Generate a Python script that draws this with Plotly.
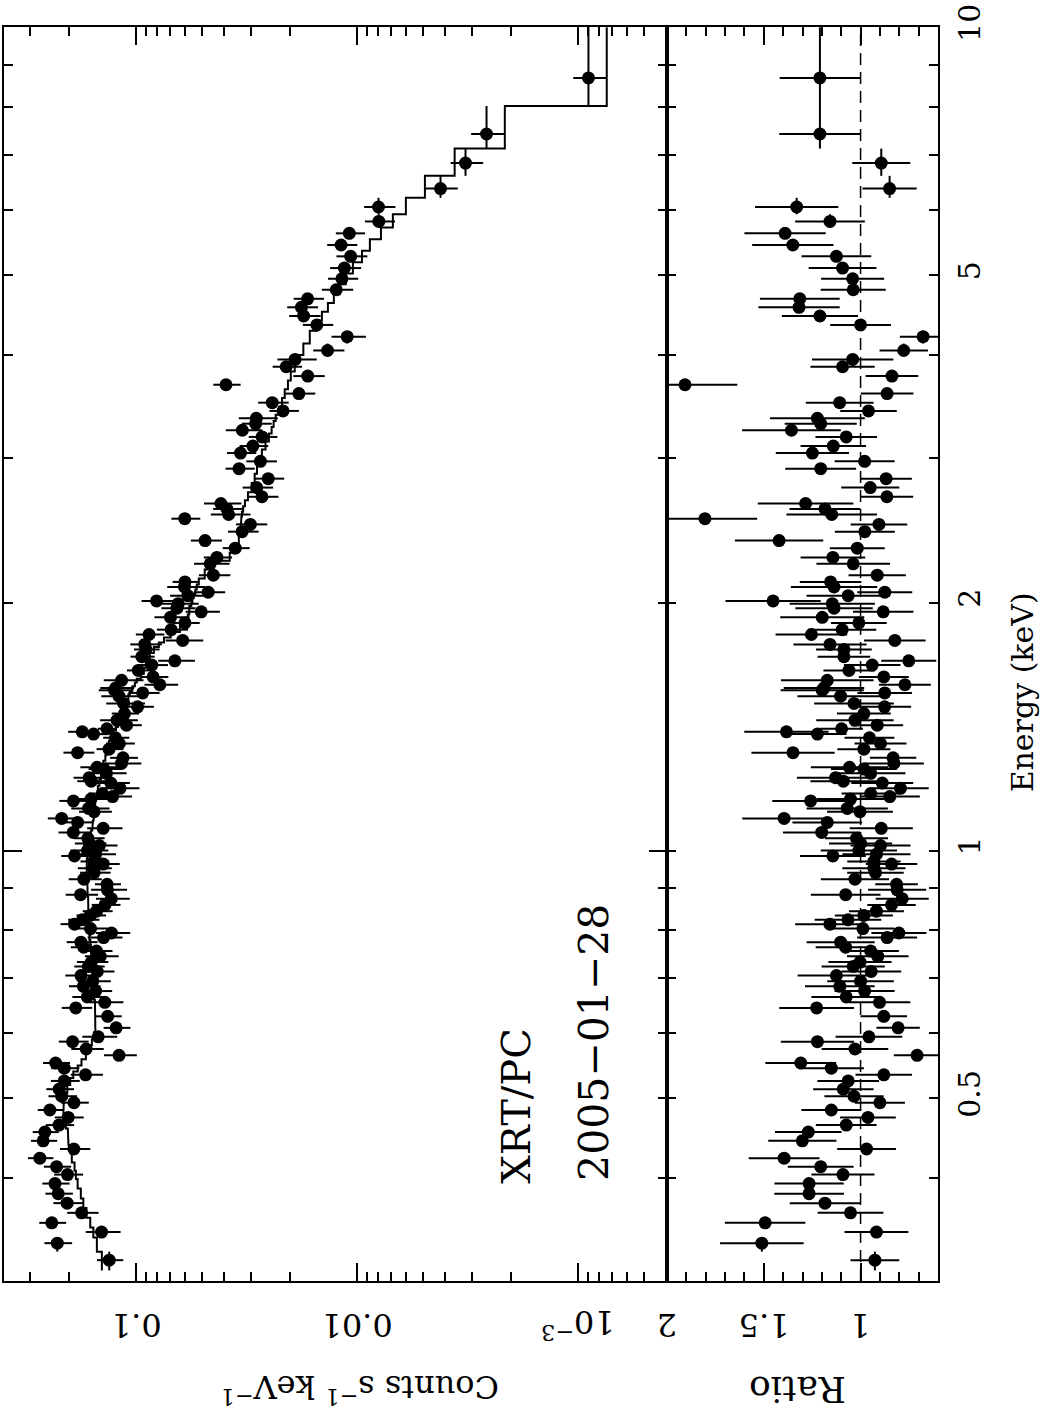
import math
import plotly.graph_objects as go

# ---------------- data ----------------
# bin centre energies (keV), high -> low
energy = [8.68, 7.42, 6.84, 6.37, 6.05, 5.81, 5.62, 5.44, 5.27, 5.10,
          4.95, 4.80, 4.68, 4.57, 4.46, 4.35, 4.21, 4.05, 3.95, 3.87,
          3.77, 3.68, 3.59, 3.50, 3.42, 3.35, 3.30, 3.24, 3.18, 3.10,
          3.04, 2.97, 2.91, 2.83, 2.76, 2.69, 2.64, 2.60, 2.56, 2.53,
          2.49, 2.44, 2.38, 2.33, 2.27, 2.23, 2.16, 2.12, 2.09, 2.06,
          2.04, 2.01, 1.995, 1.97, 1.95, 1.92, 1.89, 1.855, 1.83, 1.80,
          1.78, 1.755, 1.72, 1.70, 1.68, 1.655, 1.625, 1.61, 1.59, 1.576,
          1.566, 1.554, 1.54, 1.509, 1.495, 1.467, 1.44, 1.42, 1.406, 1.394,
          1.385, 1.371, 1.349, 1.328, 1.315, 1.296, 1.276, 1.262, 1.256, 1.241,
          1.226, 1.214, 1.208, 1.19, 1.173, 1.163, 1.155, 1.149, 1.125, 1.115,
          1.094, 1.082, 1.064, 1.052, 1.035, 1.02, 1.014, 1.0, 0.99, 0.985,
          0.97, 0.963, 0.952, 0.94, 0.923, 0.91, 0.896, 0.884, 0.874, 0.859,
          0.844, 0.834, 0.824, 0.814, 0.804, 0.794, 0.784, 0.774, 0.763, 0.755,
          0.744, 0.732, 0.723, 0.713, 0.705, 0.694, 0.684, 0.675, 0.664, 0.654,
          0.644, 0.629, 0.609, 0.594, 0.586, 0.574, 0.564, 0.552, 0.544, 0.534,
          0.525, 0.513, 0.503, 0.494, 0.484, 0.474, 0.464, 0.455, 0.444, 0.434,
          0.423, 0.413, 0.404, 0.394, 0.383, 0.373, 0.363, 0.353, 0.344, 0.3335,
          0.318]

# data / model ratio and its 1-sigma error
ratio = [1.21, 1.21, 0.893, 0.85, 1.33, 1.158, 1.39, 1.35, 1.125, 1.093,
         1.041, 1.038, 1.314, 1.318, 1.21, 1.0, 0.677, 0.777, 1.041, 1.093,
         0.838, 1.907, 0.863, 1.108, 0.959, 1.223, 1.206, 1.357, 1.074, 1.141,
         1.249, 0.979, 1.206, 0.868, 0.95, 0.864, 1.284, 1.184, 1.149, 1.804,
         0.905, 0.978, 1.421, 1.017, 1.143, 1.038, 0.914, 1.155, 1.137, 0.875,
         1.064, 1.452, 1.146, 1.137, 0.883, 1.198, 1.009, 1.095, 1.254, 0.823,
         1.158, 1.086, 1.086, 0.751, 0.94, 1.06, 0.88, 1.172, 0.771, 1.189,
         1.198, 0.875, 1.103, 1.034, 0.876, 0.983, 1.029, 0.914, 1.098, 1.383,
         1.223, 0.954, 0.897, 0.983, 1.349, 0.832, 0.828, 1.057, 0.983, 0.948,
         1.129, 1.089, 0.888, 0.794, 0.948, 0.849, 1.052, 1.258, 1.069, 1.003,
         1.395, 1.172, 0.893, 1.201, 1.021, 1.0, 0.897, 1.009, 0.918, 1.143,
         0.931, 0.84, 0.931, 0.923, 1.029, 0.814, 0.811, 1.077, 0.785, 0.84,
         0.918, 0.983, 1.065, 1.158, 0.988, 0.802, 0.863, 1.103, 1.077, 0.948,
         0.911, 1.003, 1.038, 0.945, 1.125, 1.0, 1.107, 0.979, 1.074, 0.902,
         1.227, 0.88, 0.806, 0.957, 1.223, 1.029, 0.708, 1.309, 1.151, 0.88,
         1.064, 1.089, 1.034, 0.9, 1.151, 0.962, 1.074, 1.27, 1.301, 0.969,
         1.395, 1.206, 1.091, 1.266, 1.266, 1.184, 1.052, 1.493, 0.918, 1.51,
         0.926]

ratio_err = [0.208, 0.21, 0.15, 0.14, 0.215, 0.18, 0.21, 0.21, 0.18, 0.175,
             0.163, 0.168, 0.206, 0.21, 0.197, 0.157, 0.12, 0.125, 0.21, 0.166,
             0.136, 0.27, 0.136, 0.175, 0.146, 0.245, 0.186, 0.255, 0.159, 0.169,
             0.189, 0.155, 0.183, 0.133, 0.15, 0.136, 0.247, 0.183, 0.234, 0.27,
             0.146, 0.155, 0.228, 0.142, 0.167, 0.19, 0.148, 0.159, 0.223, 0.142,
             0.215, 0.246, 0.22, 0.2, 0.156, 0.217, 0.144, 0.176, 0.185, 0.159,
             0.189, 0.144, 0.136, 0.142, 0.146, 0.132, 0.129, 0.239, 0.134, 0.208,
             0.215, 0.141, 0.223, 0.206, 0.137, 0.139, 0.2, 0.134, 0.11, 0.218,
             0.15, 0.129, 0.134, 0.137, 0.215, 0.12, 0.155, 0.2, 0.17, 0.18,
             0.2, 0.17, 0.16, 0.146, 0.15, 0.155, 0.176, 0.198, 0.21, 0.17,
             0.216, 0.18, 0.163, 0.2, 0.163, 0.163, 0.155, 0.197, 0.176, 0.17,
             0.138, 0.133, 0.163, 0.146, 0.176, 0.11, 0.15, 0.18, 0.137, 0.125,
             0.142, 0.15, 0.172, 0.18, 0.163, 0.142, 0.155, 0.176, 0.155, 0.146,
             0.159, 0.163, 0.163, 0.155, 0.2, 0.172, 0.18, 0.155, 0.18, 0.159,
             0.193, 0.12, 0.112, 0.172, 0.189, 0.172, 0.12, 0.183, 0.168, 0.146,
             0.159, 0.156, 0.153, 0.129, 0.155, 0.144, 0.157, 0.172, 0.176, 0.152,
             0.183, 0.17, 0.163, 0.179, 0.18, 0.182, 0.17, 0.208, 0.165, 0.216,
             0.126]

# folded model (counts s^-1 keV^-1) in each bin
model = [7.40e-4, 2.14e-3, 3.61e-3, 4.92e-3, 6.00e-3, 6.87e-3, 7.78e-3, 8.73e-3, 9.48e-3, 0.01042,
         0.01122, 0.01194, 0.01271, 0.01352, 0.01439, 0.01517, 0.01633, 0.01746, 0.01828, 0.0191,
         0.0199, 0.0205, 0.0212, 0.0218, 0.0225, 0.0233, 0.0238, 0.0243, 0.0250, 0.0259,
         0.0269, 0.0279, 0.0283, 0.0290, 0.0299, 0.0311, 0.0321, 0.0327, 0.0331, 0.0333,
         0.0335, 0.0338, 0.0342, 0.0349, 0.0376, 0.0444, 0.0488, 0.0519, 0.0530, 0.0538,
         0.0547, 0.0555, 0.0561, 0.0573, 0.0573, 0.0582, 0.0594, 0.0632, 0.0695, 0.0746,
         0.0787, 0.0829, 0.0865, 0.0887, 0.0901, 0.0920, 0.0949, 0.0990, 0.1010, 0.1037,
         0.1042, 0.1064, 0.1081, 0.1098, 0.1121, 0.1145, 0.1181, 0.1206, 0.1231, 0.1264,
         0.1271, 0.1297, 0.1324, 0.1345, 0.1360, 0.1374, 0.1403, 0.1418, 0.1418, 0.1433,
         0.1440, 0.1462, 0.1462, 0.1486, 0.1493, 0.1501, 0.1517, 0.1524, 0.1532, 0.1541,
         0.1553, 0.1565, 0.1574, 0.1598, 0.1614, 0.1623, 0.1631, 0.1641, 0.1658, 0.1658,
         0.1666, 0.1673, 0.1673, 0.1673, 0.1671, 0.1658, 0.1658, 0.1652, 0.1644, 0.1641,
         0.1641, 0.1637, 0.1637, 0.1637, 0.1623, 0.1607, 0.1623, 0.1607, 0.1598, 0.1590,
         0.1590, 0.1585, 0.1581, 0.1581, 0.1574, 0.1567, 0.1560, 0.1553, 0.1545, 0.1532,
         0.1524, 0.1524, 0.1524, 0.1547, 0.1581, 0.1631, 0.1683, 0.1762, 0.1832, 0.1919,
         0.1982, 0.2042, 0.2094, 0.2117, 0.2128, 0.2104, 0.2074, 0.2031, 0.2018, 0.1968,
         0.1949, 0.1894, 0.1868, 0.1834, 0.1774, 0.1728, 0.1673, 0.1608, 0.1557, 0.1501,
         0.1425]

energy_range_edges = [0.309, 10.0]       # outer edges of the first / last bin (keV)
counts_ticks = [0.001, 0.01, 0.1]
counts_tick_text = ["10<sup>\u22123</sup>", "0.01", "0.1"]
ratio_ticks = [1.0, 1.5, 2.0]
ratio_tick_text = ["1", "1.5", "2"]
energy_ticks = [0.5, 1, 2, 5, 10]
energy_tick_text = ["0.5", "1", "2", "5", "10"]

# ---------------- derived quantities ----------------
order = sorted(range(len(energy)), key=lambda i: energy[i])
E = [energy[i] for i in order]
R = [ratio[i] for i in order]
RE = [ratio_err[i] for i in order]
M = [model[i] for i in order]
C = [r * m for r, m in zip(R, M)]           # data = ratio * model
CE = [e * m for e, m in zip(RE, M)]

edges = [energy_range_edges[0]]
for a, b in zip(E[:-1], E[1:]):
    edges.append(math.sqrt(a * b))
edges.append(energy_range_edges[1])
lo = edges[:-1]
hi = edges[1:]
e_plus = [h - e for h, e in zip(hi, E)]
e_minus = [e - l for l, e in zip(lo, E)]

step_x, step_y = [], []
for m, l, h in zip(M, lo, hi):
    step_x += [m, m]
    step_y += [l, h]

# ---------------- figure ----------------
W, H = 1044, 1423
ML, MR, MT, MB = 4, 106, 22, 142
plot_w = W - ML - MR
plot_h = H - MT - MB
split = (667 - ML) / plot_w

FONT = "DejaVu Serif"
LW = 2
E_RANGE = [math.log10(0.3), 1.0004]

fig = go.Figure()

err_style = dict(type="data", thickness=2, width=0, color="black")

fig.add_trace(go.Scatter(
    x=C, y=E, mode="markers", xaxis="x", yaxis="y",
    marker=dict(size=13, color="black"),
    error_x=dict(array=CE, **err_style),
    error_y=dict(symmetric=False, array=e_plus, arrayminus=e_minus, **err_style),
    showlegend=False, hoverinfo="skip"))

fig.add_trace(go.Scatter(
    x=step_x, y=step_y, mode="lines", xaxis="x", yaxis="y",
    line=dict(color="black", width=2), showlegend=False, hoverinfo="skip"))

fig.add_trace(go.Scatter(
    x=R, y=E, mode="markers", xaxis="x2", yaxis="y2",
    marker=dict(size=13, color="black"),
    error_x=dict(array=RE, **err_style),
    error_y=dict(symmetric=False, array=e_plus, arrayminus=e_minus, **err_style),
    showlegend=False, hoverinfo="skip"))

fig.add_shape(type="line", xref="x2", yref="y2 domain", x0=1, x1=1, y0=0, y1=1,
              line=dict(color="black", width=1.5, dash="12px,7px"))

counts_minor = [k * 10 ** p for p in (-4, -3, -2, -1) for k in range(2, 10)
                if 3.95e-4 < k * 10 ** p < 0.395]
ratio_minor = [round(0.6 + 0.1 * i, 2) for i in range(15)]
energy_minor = [0.3, 0.4, 0.6, 0.7, 0.8, 0.9, 3, 4, 6, 7, 8, 9]

axis_common = dict(showline=True, linecolor="black", linewidth=LW, mirror="ticks",
                   ticks="inside", tickcolor="black", tickwidth=LW,
                   showgrid=False, zeroline=False)

fig.update_layout(
    width=W, height=H,
    margin=dict(l=ML, r=MR, t=MT, b=MB, pad=0),
    plot_bgcolor="white", paper_bgcolor="white",
    font=dict(family=FONT, color="black"),
    xaxis=dict(domain=[0, split], type="log", range=[math.log10(0.395), math.log10(3.95e-4)],
               tickmode="array", tickvals=counts_ticks, showticklabels=False, ticklen=18,
               minor=dict(tickmode="array", tickvals=counts_minor, ticklen=9,
                          tickcolor="black", tickwidth=LW, ticks="inside"),
               anchor="y", **axis_common),
    xaxis2=dict(domain=[split, 1], range=[2.0, 0.6],
                tickmode="array", tickvals=ratio_ticks, showticklabels=False, ticklen=18,
                minor=dict(tickmode="array", tickvals=ratio_minor, ticklen=9,
                           tickcolor="black", tickwidth=LW, ticks="inside"),
                anchor="y2", **axis_common),
    yaxis=dict(domain=[0, 1], type="log", range=E_RANGE,
               tickmode="array", tickvals=[1, 10], showticklabels=False, ticklen=18,
               minor=dict(tickmode="array", tickvals=energy_minor + [0.5, 2, 5], ticklen=9,
                          tickcolor="black", tickwidth=LW, ticks="inside"),
               anchor="x", side="left", **axis_common),
    yaxis2=dict(domain=[0, 1], type="log", range=E_RANGE,
                tickmode="array", tickvals=energy_ticks, ticktext=energy_tick_text, ticklen=9,
                tickangle=-90, tickfont=dict(size=30, family=FONT), ticklabelstandoff=4,
                ticklabeloverflow="allow",
                minor=dict(tickmode="array", tickvals=energy_minor, ticklen=9,
                           tickcolor="black", tickwidth=LW, ticks="inside"),
                anchor="x2", side="right", **axis_common),
)

ann = []
def paper_y(py):
    return (H - MB - py) / plot_h
def paper_x(px):
    return (px - ML) / plot_w

centre = dict(showarrow=False, xanchor="center", yanchor="middle")

for v, t in zip(counts_ticks, counts_tick_text):
    ann.append(dict(x=math.log10(v), xref="x", y=paper_y(1325), yref="paper", text=t,
                    textangle=180, font=dict(size=32, family=FONT), **centre))
for v, t in zip(ratio_ticks, ratio_tick_text):
    ann.append(dict(x=v, xref="x2", y=paper_y(1325), yref="paper", text=t,
                    textangle=180, font=dict(size=32, family=FONT), **centre))

ann.append(dict(x=paper_x(360), y=paper_y(1390), xref="paper", yref="paper",
                text="Counts s<sup>\u22121</sup> keV<sup>\u22121</sup>", textangle=180,
                font=dict(size=32, family=FONT), **centre))
ann.append(dict(x=paper_x(798), y=paper_y(1390), xref="paper", yref="paper",
                text="Ratio", textangle=180, font=dict(size=36, family=FONT), **centre))
ann.append(dict(x=paper_x(1022), y=paper_y(690), xref="paper", yref="paper",
                text="Energy (keV)", textangle=-90, font=dict(size=30, family=FONT), **centre))
ann.append(dict(x=paper_x(516), y=paper_y(1105), xref="paper", yref="paper",
                text="XRT/PC", textangle=-90, font=dict(size=40, family=FONT), **centre))
ann.append(dict(x=paper_x(594), y=paper_y(1042), xref="paper", yref="paper",
                text="2005\u221201\u221228", textangle=-90, font=dict(size=41, family=FONT), **centre))

fig.update_layout(annotations=ann)

fig.write_html("out.html", config={"displayModeBar": False},
               post_script="document.body.style.margin='0px';")
